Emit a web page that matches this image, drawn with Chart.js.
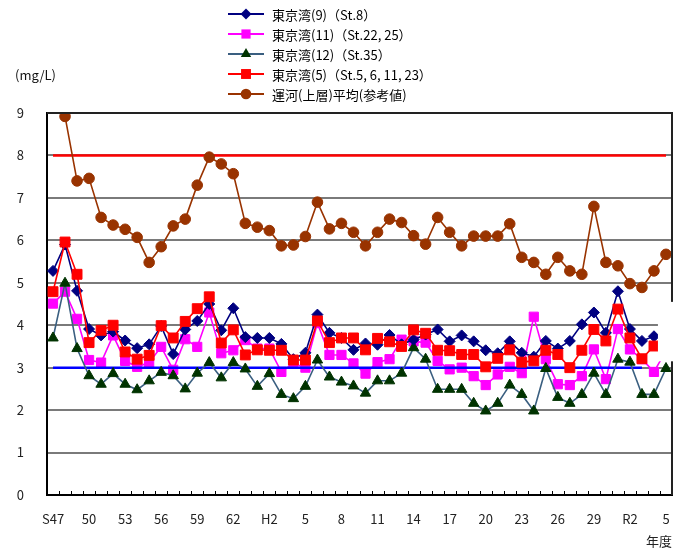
<!DOCTYPE html>
<html><head><meta charset="utf-8">
<script src="https://cdn.jsdelivr.net/npm/chart.js@4/dist/chart.umd.min.js"></script>
<style>
html,body{margin:0;padding:0;background:#fff;}
#wrap{position:relative;width:681px;height:551px;font-family:"Noto Sans CJK JP",sans-serif;}
#c{position:absolute;left:0;top:0;}
#legend{position:absolute;left:228px;top:4px;}
.row{display:flex;align-items:center;height:20px;font-size:13px;color:#000;white-space:nowrap;}
.row svg{margin-right:8px;flex:none;}
#unit{position:absolute;left:15px;top:65px;font-size:13px;color:#111;}
</style></head>
<body><div id="wrap"><canvas id="c" width="681" height="551" style="width:681px;height:551px"></canvas><div id="legend"></div><div id="unit">(mg/L)</div></div>
<script>
const categories = ['S47','S48','S49','S50','S51','S52','S53','S54','S55','S56','S57','S58','S59','S60','S61','S62','S63',
 'H1','H2','H3','H4','H5','H6','H7','H8','H9','H10','H11','H12','H13','H14','H15','H16','H17','H18','H19','H20',
 'H21','H22','H23','H24','H25','H26','H27','H28','H29','H30','R1','R2','R3','R4','R5'];
const tickLabels = ['S47','50','53','56','59','62','H2','5','8','11','14','17','20','23','26','29','R2','5'];

const tokyo9 = [5.28,5.90,4.81,3.91,3.76,3.85,3.64,3.46,3.55,3.98,3.32,3.90,4.10,4.50,3.88,4.40,3.72,
 3.70,3.70,3.56,3.20,3.35,4.25,3.82,3.70,3.42,3.57,3.54,3.77,3.55,3.66,3.78,3.90,3.62,3.76,3.62,3.41,
 3.34,3.62,3.35,3.26,3.63,3.45,3.63,4.02,4.30,3.82,4.80,3.91,3.63,3.74,3.80];
const tokyo11 = [4.51,4.79,4.15,3.18,3.12,3.76,3.16,3.02,3.12,3.49,2.95,3.67,3.49,4.30,3.34,3.41,3.65,
 3.45,3.45,2.90,3.10,3.00,4.05,3.30,3.30,3.10,2.86,3.13,3.20,3.66,3.62,3.59,3.16,2.96,3.00,2.80,2.59,
 2.84,3.02,2.87,4.20,3.20,2.61,2.59,2.80,3.43,2.73,3.91,3.43,3.20,2.90,3.40];
const tokyo12 = [3.70,4.99,3.45,2.81,2.61,2.86,2.61,2.48,2.69,2.89,2.81,2.50,2.87,3.12,2.76,3.12,2.97,
 2.56,2.86,2.37,2.27,2.56,3.18,2.78,2.66,2.57,2.40,2.69,2.69,2.87,3.47,3.20,2.49,2.49,2.49,2.16,1.98,
 2.16,2.59,2.37,1.98,2.98,2.30,2.16,2.37,2.87,2.37,3.20,3.13,2.37,2.37,2.98];
const tokyo5 = [4.79,5.96,5.20,3.59,3.88,4.00,3.37,3.20,3.29,3.99,3.70,4.09,4.39,4.67,3.58,3.89,3.30,
 3.42,3.41,3.41,3.18,3.18,4.10,3.59,3.70,3.70,3.42,3.69,3.61,3.50,3.89,3.81,3.41,3.40,3.31,3.31,3.02,
 3.22,3.42,3.13,3.16,3.41,3.31,3.00,3.41,3.90,3.63,4.38,3.70,3.21,3.51,3.60];
const canal = [null,8.92,7.40,7.46,6.54,6.36,6.26,6.07,5.48,5.85,6.34,6.50,7.30,7.96,7.80,7.57,6.40,
 6.31,6.23,5.87,5.89,6.09,6.90,6.27,6.40,6.19,5.87,6.19,6.50,6.42,6.11,5.91,6.54,6.19,5.87,6.10,6.10,
 6.10,6.39,5.60,5.48,5.20,5.60,5.28,5.20,6.80,5.48,5.40,4.98,4.89,5.28,5.67];
const stdRed = [8,8,8,8,8,8,8,8,8,8,8,8,8,8,8,8,8,8,8,8,8,8,8,8,8,8,8,8,8,8,8,8,8,8,8,8,8,8,8,8,8,8,8,8,8,8,8,8,8,8,8,8];
const stdBlue = [3,3,3,3,3,3,3,3,3,3,3,3,3,3,3,3,3,3,3,3,3,3,3,3,3,3,3,3,3,3,3,3,3,3,3,3,3,3,3,3,3,3,3,3,3,3,3,3,3,3,null,null];
const seriesLabels = ['東京湾(9)（St.8）','東京湾(11)（St.22, 25）','東京湾(12)（St.35）','東京湾(5)（St.5, 6, 11, 23）','運河(上層)平均(参考値)'];

const FONT = "'Noto Sans CJK JP', sans-serif";

function series(label, data, fill, line, style, r, order){
  return {label, data, borderColor:line, backgroundColor:fill, pointBackgroundColor:fill, pointBorderColor:fill,
    pointStyle:style, pointRadius:r, pointBorderWidth:1, borderWidth:1.6, order, spanGaps:false, tension:0};
}
const dsBlue = series(seriesLabels[0], tokyo9, '#000080', '#000080', 'rectRot', 5.5, 1);
const dsMag = series(seriesLabels[1], tokyo11, '#ff00ff', '#ff00ff', 'rect', 6.5, 4);
const dsGreen = series(seriesLabels[2], tokyo12, '#003300', '#3a5f80', 'triangle', 6, 2);
const dsRed = series(seriesLabels[3], tokyo5, '#ff0000', '#ff0000', 'rect', 7, 0);
const dsBrown = series(seriesLabels[4], canal, '#993300', '#993300', 'circle', 5.3, 5);
const dsStdRed = {label:'std8', data:stdRed, borderColor:'#ff0000', borderWidth:2.5, pointRadius:0, order:6};
const dsStdBlue = {label:'std3', data:stdBlue, borderColor:'#0000ff', borderWidth:2.5, pointRadius:0, order:3};

const legendSeries = [dsBlue, dsMag, dsGreen, dsRed, dsBrown];
const leg = document.getElementById('legend');
legendSeries.forEach(d=>{
  const r = d.pointRadius, cx=18, cy=7;
  let m='';
  if(d.pointStyle==='circle') m=`<circle cx="${cx}" cy="${cy}" r="${r}" fill="${d.pointBackgroundColor}"/>`;
  else if(d.pointStyle==='rect'){const s=r*Math.SQRT1_2; m=`<rect x="${cx-s}" y="${cy-s}" width="${2*s}" height="${2*s}" fill="${d.pointBackgroundColor}"/>`;}
  else if(d.pointStyle==='rectRot') m=`<polygon points="${cx-r},${cy} ${cx},${cy-r} ${cx+r},${cy} ${cx},${cy+r}" fill="${d.pointBackgroundColor}"/>`;
  else if(d.pointStyle==='triangle') m=`<polygon points="${cx},${cy-r} ${cx+r*0.866},${cy+r*0.5} ${cx-r*0.866},${cy+r*0.5}" fill="${d.pointBackgroundColor}"/>`;
  const row=document.createElement('div'); row.className='row';
  row.innerHTML=`<svg width="36" height="14"><line x1="0" y1="7" x2="36" y2="7" stroke="${d.borderColor}" stroke-width="2"/>${m}</svg><span>${d.label}</span>`;
  leg.appendChild(row);
});

const framePlugin = {
  id:'frame',
  afterDatasetsDraw(chart){
    const ctx=chart.ctx, a=chart.chartArea, xs=chart.scales.x, ys=chart.scales.y;
    ctx.save();
    ctx.strokeStyle='#222'; ctx.lineWidth=2;
    ctx.beginPath(); ctx.moveTo(a.left,a.top); ctx.lineTo(a.right,a.top); ctx.lineTo(a.right,a.bottom); ctx.stroke();
    ctx.lineWidth=1; ctx.strokeStyle='#000';
    const n=categories.length, w=(a.right-a.left)/n;
    ctx.beginPath();
    for(let i=1;i<n;i++){const x=Math.round(a.left+i*w)+0.5; ctx.moveTo(x,a.bottom); ctx.lineTo(x,a.bottom-4);}
    ctx.stroke();
    const x0=xs.getPixelForValue(n-2+0.33), y0=ys.getPixelForValue(4.55), y1=ys.getPixelForValue(3.15);
    ctx.fillStyle='#fff'; ctx.fillRect(x0,y0,chart.width-x0,y1-y0);
    ctx.restore();
  }
};

new Chart(document.getElementById('c'), {
  type:'line',
  data:{labels:categories, datasets:[dsRed, dsBlue, dsGreen, dsStdBlue, dsMag, dsBrown, dsStdRed]},
  options:{
    responsive:false, animation:false, devicePixelRatio:1,
    layout:{padding:{top:113,right:9,left:0,bottom:0}},
    plugins:{legend:{display:false}, tooltip:{enabled:false}},
    scales:{
      x:{offset:true, grid:{display:false}, border:{display:true,color:'#000',width:2},
         ticks:{autoSkip:false,maxRotation:0,minRotation:0,padding:8,color:'#222',font:{family:FONT,size:13},
           callback:(v,i)=> i%3===0 ? tickLabels[i/3] : ''},
         title:{display:true,text:'年度',align:'end',color:'#222',font:{family:FONT,size:13},padding:{top:0,bottom:2}},
         afterFit:(s)=>{s.height=56;}},
      y:{min:0,max:9,
         ticks:{stepSize:1,padding:23,color:'#222',font:{family:FONT,size:13}},
         grid:{color:'#7a7a7a',lineWidth:2,drawTicks:false},
         border:{color:'#000',width:2},
         afterFit:(s)=>{s.width=47;}}
    }
  },
  plugins:[framePlugin]
});
</script>
</body></html>
